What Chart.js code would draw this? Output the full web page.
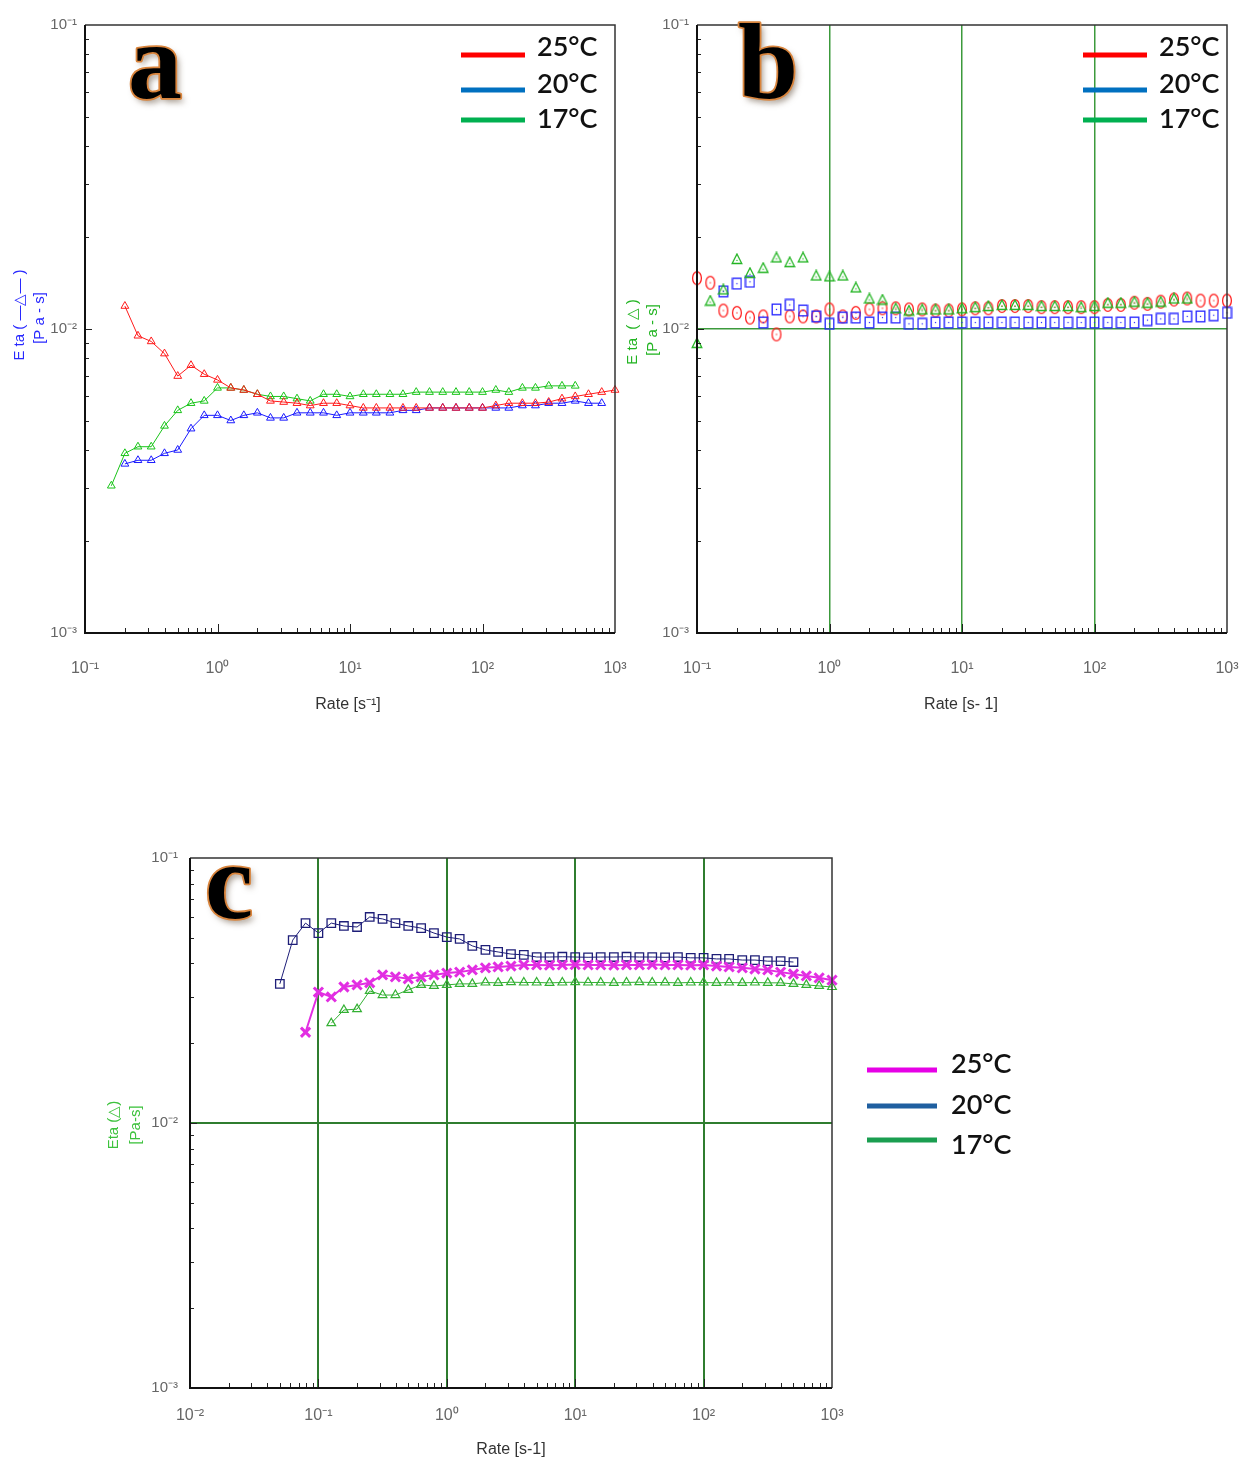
<!DOCTYPE html>
<html><head><meta charset="utf-8">
<script src="https://cdn.jsdelivr.net/npm/chart.js@4.4.0/dist/chart.umd.min.js"></script>
<style>
html,body{margin:0;padding:0;background:#fff;width:1251px;height:1463px;overflow:hidden}
canvas{position:absolute}
</style></head><body>
<canvas id="ca" width="645" height="730" style="left:0;top:0"></canvas>
<canvas id="cb" width="626" height="730" style="left:625px;top:0"></canvas>
<canvas id="cc" width="1251" height="663" style="left:0;top:800px"></canvas>
<script>
// ---------- DATA ----------
const legendLabels = ['25°C', '20°C', '17°C'];

// shear rates (s^-1), panels a & b
const ratesAB = [0.1,0.126,0.158,0.2,0.251,0.316,0.398,0.501,0.631,0.794,
  1,1.26,1.58,2,2.51,3.16,3.98,5.01,6.31,7.94,
  10,12.6,15.8,20,25.1,31.6,39.8,50.1,63.1,79.4,
  100,126,158,200,251,316,398,501,631,794,1000];

// panel a – viscosity (Pa·s)
const etaA25 = [null,null,null,0.0119,0.0095,0.0091,0.0083,0.0070,0.0076,0.0071,
  0.0068,0.0064,0.0063,0.0061,0.0058,0.00575,0.0057,0.0056,0.0057,0.0057,
  0.0056,0.0055,0.0055,0.0055,0.0055,0.0055,0.0055,0.0055,0.0055,0.0055,
  0.0055,0.0056,0.0057,0.0057,0.0057,0.00575,0.0059,0.0060,0.0061,0.0062,0.0063];
const etaA20 = [null,null,null,0.0036,0.0037,0.0037,0.0039,0.0040,0.0047,0.0052,
  0.0052,0.0050,0.0052,0.0053,0.0051,0.0051,0.0053,0.0053,0.0053,0.0052,
  0.0053,0.0053,0.0053,0.0053,0.0054,0.0054,0.0055,0.0055,0.0055,0.0055,
  0.0055,0.0055,0.0055,0.0056,0.0056,0.0057,0.0057,0.0058,0.0057,0.0057,null];
const etaA17 = [null,null,0.00305,0.0039,0.0041,0.0041,0.0048,0.0054,0.0057,0.0058,
  0.0064,0.0064,0.0063,0.0061,0.0060,0.0060,0.0059,0.0058,0.0061,0.0061,
  0.0060,0.0061,0.0061,0.0061,0.0061,0.0062,0.0062,0.0062,0.0062,0.0062,
  0.0062,0.0063,0.0062,0.0064,0.0064,0.0065,0.0065,0.0065,null,null,null];

// panel b – viscosity (Pa·s)
const etaB25 = [0.0147,0.0142,0.0115,0.0113,0.0109,0.0110,0.0096,0.0110,0.0110,0.0110,
  0.0116,0.0110,0.0113,0.0116,0.0117,0.0117,0.0116,0.0116,0.0115,0.0115,
  0.0116,0.0117,0.0117,0.0119,0.0119,0.0119,0.0118,0.0118,0.0118,0.0118,
  0.0118,0.0120,0.0120,0.0122,0.0121,0.0123,0.0125,0.0126,0.0124,0.0124,0.0124];
const etaB20 = [null,null,0.0133,0.0141,0.0143,0.0105,0.0116,0.0120,0.0115,0.0110,
  0.0104,0.0109,0.0109,0.0105,0.0109,0.0109,0.0104,0.0104,0.0105,0.0105,
  0.0105,0.0105,0.0105,0.0105,0.0105,0.0105,0.0105,0.0105,0.0105,0.0105,
  0.0105,0.0105,0.0105,0.0105,0.0107,0.0108,0.0108,0.0110,0.0110,0.0111,0.0113];
const etaB17 = [0.0090,0.0124,0.0135,0.0170,0.0153,0.0159,0.0172,0.0166,0.0172,0.0150,
  0.0149,0.0150,0.0137,0.0126,0.0125,0.0117,0.0115,0.0116,0.0116,0.0116,
  0.0117,0.0118,0.0119,0.0120,0.0120,0.0120,0.0119,0.0119,0.0119,0.0118,
  0.0119,0.0122,0.0122,0.0123,0.0122,0.0123,0.0126,0.0126,null,null,null];

// panel c
const ratesC = [0.01,0.0126,0.0158,0.02,0.0251,0.0316,0.0398,0.0501,0.0631,0.0794,
  0.1,0.126,0.158,0.2,0.251,0.316,0.398,0.501,0.631,0.794,
  1,1.26,1.58,2,2.51,3.16,3.98,5.01,6.31,7.94,
  10,12.6,15.8,20,25.1,31.6,39.8,50.1,63.1,79.4,
  100,126,158,200,251,316,398,501,631,794,1000];
const etaC25 = [null,null,null,null,null,null,null,null,null,0.0220,
  0.0312,0.0299,0.0326,0.0332,0.0338,0.0362,0.0356,0.0350,0.0356,0.0362,
  0.0368,0.0371,0.0378,0.0385,0.0388,0.0391,0.0395,0.0395,0.0394,0.0395,
  0.0396,0.0395,0.0395,0.0394,0.0395,0.0395,0.0396,0.0395,0.0395,0.0394,
  0.0395,0.0391,0.0388,0.0385,0.0381,0.0378,0.0371,0.0365,0.0359,0.0353,0.0346];
const etaC20 = [null,null,null,null,null,null,null,0.0335,0.0490,0.0568,
  0.0521,0.0568,0.0554,0.0549,0.0599,0.0589,0.0568,0.0554,0.0544,0.0521,
  0.0503,0.0495,0.0466,0.0450,0.0442,0.0434,0.0431,0.0423,0.0423,0.0424,
  0.0423,0.0422,0.0423,0.0423,0.0424,0.0423,0.0423,0.0422,0.0423,0.0420,
  0.0420,0.0416,0.0416,0.0412,0.0412,0.0408,0.0408,0.0405,null,null,null];
const etaC17 = [null,null,null,null,null,null,null,null,null,null,
  null,0.0238,0.0267,0.0269,0.0315,0.0304,0.0304,0.0318,0.0332,0.0329,
  0.0332,0.0335,0.0335,0.0339,0.0338,0.0340,0.0339,0.0339,0.0338,0.0339,
  0.0340,0.0339,0.0339,0.0338,0.0339,0.0340,0.0339,0.0339,0.0338,0.0339,
  0.0339,0.0338,0.0339,0.0338,0.0339,0.0338,0.0338,0.0335,0.0332,0.0329,0.0326];

// tick labels (exponent -> text)
const tickExps = [-3,-2,-1,0,1,2,3];
const tickTexts = ['10⁻³','10⁻²','10⁻¹','10⁰','10¹','10²','10³'];

// ---------- HELPERS ----------
const FONT = '"Liberation Sans Narrow","Liberation Sans",Arial,sans-serif';
function pts(rates, vals){ const o=[]; rates.forEach((r,i)=>{ if(vals[i]!=null) o.push({x:r,y:vals[i]}); }); return o; }
function isDecade(v){ const l=Math.log10(v); return Math.abs(l-Math.round(l))<1e-6; }
function tickLabel(v){ if(!isDecade(v)) return ''; const e=Math.round(Math.log10(v)); const k=tickExps.indexOf(e); return k<0?'':tickTexts[k]; }
function mkMarker(w,h,draw){ const c=document.createElement('canvas'); c.width=w; c.height=h; draw(c.getContext('2d'),w,h); return c; }

const bRed='#ff2020', bBlue='#2424ff', bGreen='#22b422';
const ellipseRed = mkMarker(12,16,(g,w,h)=>{g.strokeStyle=bRed;g.lineWidth=1.3;g.beginPath();g.ellipse(w/2,h/2,4.4,6.4,0,0,Math.PI*2);g.stroke();g.fillStyle=bRed;g.fillRect(w/2-0.6,h/2-0.6,1.2,1.2);});
const squareBlue = mkMarker(11,13,(g,w,h)=>{g.strokeStyle=bBlue;g.lineWidth=1.3;g.strokeRect(1.2,1.2,w-2.4,h-2.4);g.fillStyle=bBlue;g.fillRect(w/2-0.6,h/2-0.6,1.2,1.2);});
const triGreen = mkMarker(12,12,(g,w,h)=>{g.strokeStyle=bGreen;g.lineWidth=1.3;g.beginPath();g.moveTo(w/2,1);g.lineTo(w-1.2,h-1.5);g.lineTo(1.2,h-1.5);g.closePath();g.stroke();g.fillStyle=bGreen;g.fillRect(w/2-0.6,h*0.62-0.6,1.2,1.2);});

const decor = {
  id:'decor',
  afterDraw(chart, args, o){
    const ctx=chart.ctx, a=chart.chartArea, x=chart.scales.x, y=chart.scales.y;
    ctx.save();
    // inner ticks
    ctx.strokeStyle='#222'; ctx.lineWidth=1;
    const ex0=Math.round(Math.log10(x.min)), ex1=Math.round(Math.log10(x.max));
    for(let e=ex0;e<ex1;e++) for(let k=1;k<=9;k++){
      const v=k*Math.pow(10,e); const px=Math.round(x.getPixelForValue(v))+0.5;
      ctx.beginPath(); ctx.moveTo(px,a.bottom); ctx.lineTo(px,a.bottom-(k===1?9:5)); ctx.stroke();
    }
    const ey0=Math.round(Math.log10(y.min)), ey1=Math.round(Math.log10(y.max));
    for(let e=ey0;e<ey1;e++) for(let k=1;k<=9;k++){
      const v=k*Math.pow(10,e); const py=Math.round(y.getPixelForValue(v))+0.5;
      ctx.beginPath(); ctx.moveTo(a.left,py); ctx.lineTo(a.left+(k===1?7:4),py); ctx.stroke();
    }
    // frame
    ctx.strokeStyle='#333'; ctx.lineWidth=1.5;
    ctx.beginPath(); ctx.moveTo(a.left,a.top); ctx.lineTo(a.right,a.top); ctx.lineTo(a.right,a.bottom); ctx.stroke();
    ctx.strokeStyle='#111'; ctx.lineWidth=2;
    ctx.beginPath(); ctx.moveTo(a.left,a.top); ctx.lineTo(a.left,a.bottom); ctx.lineTo(a.right,a.bottom); ctx.stroke();
    // x title
    ctx.fillStyle='#333'; ctx.font='16px '+FONT; ctx.textAlign='center'; ctx.textBaseline='middle';
    ctx.fillText(o.xTitle.text, o.xTitle.x, o.xTitle.y);
    // y title (rotated, two lines)
    ctx.fillStyle=o.yTitle.color; ctx.font='15px '+FONT;
    o.yTitle.lines.forEach(l=>{ ctx.save(); ctx.translate(l.x,l.y); ctx.rotate(-Math.PI/2); ctx.fillText(l.text,0,0); ctx.restore(); });
    // panel letter
    const L=o.letter;
    ctx.font='bold 108px "Liberation Serif","DejaVu Serif",serif'; ctx.textAlign='left'; ctx.textBaseline='alphabetic';
    ctx.save(); ctx.shadowColor='rgba(90,70,50,0.55)'; ctx.shadowBlur=6; ctx.shadowOffsetX=3; ctx.shadowOffsetY=4;
    ctx.fillStyle='#000'; ctx.fillText(L.text,L.x,L.y); ctx.restore();
    ctx.strokeStyle='#d9843c'; ctx.lineWidth=3.5; ctx.lineJoin='round'; ctx.strokeText(L.text,L.x,L.y);
    ctx.fillStyle='#000'; ctx.fillText(L.text,L.x,L.y);
    // legend
    const G=o.legend;
    ctx.font='600 27px Lato,"Open Sans",sans-serif'; ctx.textBaseline='middle'; ctx.textAlign='left';
    G.items.forEach((it,i)=>{
      ctx.fillStyle=it.color; ctx.fillRect(G.x1,it.y-2.5,G.x2-G.x1,5);
      ctx.fillStyle='#111'; ctx.fillText(legendLabels[i],G.tx,it.ty);
    });
    ctx.restore();
  }
};

function scales(xmin,xmax,ymin,ymax,leftW,bottomH,xPad,yPad,gridColor,gridW){
  const gc = c => (gridColor && isDecade(c.tick.value) && c.tick.value>xmin && c.tick.value<xmax) ? gridColor : 'rgba(0,0,0,0)';
  const gcy = c => (gridColor && isDecade(c.tick.value) && c.tick.value>ymin && c.tick.value<ymax) ? gridColor : 'rgba(0,0,0,0)';
  return {
    x:{type:'logarithmic',position:'bottom',min:xmin,max:xmax,
      afterFit:s=>{s.height=bottomH; s.paddingLeft=0; s.paddingRight=0;},
      border:{display:false},
      grid:{drawTicks:false,color:gc,lineWidth:gridW},
      ticks:{autoSkip:false,maxRotation:0,minRotation:0,padding:xPad,color:'#666',font:{family:FONT,size:16},callback:v=>tickLabel(v)}},
    y:{type:'logarithmic',position:'left',min:ymin,max:ymax,
      afterFit:s=>{s.width=leftW; s.paddingTop=0; s.paddingBottom=0;},
      border:{display:false},
      grid:{drawTicks:false,color:gcy,lineWidth:gridW},
      ticks:{autoSkip:false,padding:yPad,color:'#666',font:{family:FONT,size:15},callback:v=>tickLabel(v)}}
  };
}
const common = {responsive:false,animation:false,events:[],
  plugins:{legend:{display:false},tooltip:{enabled:false}}};

// ---------- PANEL A ----------
const aRed='#ff1a1a', aBlue='#1a1aff', aGreen='#19c419';
function lineDs(data,color,style,r,bw,lw){ return {data,showLine:true,borderColor:color,borderWidth:lw,pointStyle:style,pointRadius:r,pointBorderColor:color,pointBorderWidth:bw,pointBackgroundColor:'rgba(0,0,0,0)',clip:10}; }
new Chart(document.getElementById('ca'),{type:'scatter',
  data:{datasets:[
    lineDs(pts(ratesAB,etaA25),aRed,'triangle',4.5,1,1),
    lineDs(pts(ratesAB,etaA20),aBlue,'triangle',4.5,1,1),
    lineDs(pts(ratesAB,etaA17),aGreen,'triangle',4.5,1,1)]},
  options:Object.assign({},common,{
    layout:{padding:{left:0,top:25,right:30,bottom:0}},
    scales:scales(0.1,1000,0.001,0.1,85,97,26,8,null,1),
    plugins:Object.assign({},common.plugins,{decor:{
      xTitle:{text:'Rate [s⁻¹]',x:348,y:705},
      yTitle:{color:'#2828ff',lines:[{text:'E ta ( —△— )',x:20,y:315},{text:'[P a - s]',x:40,y:318}]},
      letter:{text:'a',x:128,y:98},
      legend:{x1:461,x2:525,tx:537,items:[{color:'#ff0000',y:55,ty:47},{color:'#0070c0',y:90,ty:84},{color:'#00b050',y:120,ty:119}]}
    }})
  }),
  plugins:[decor]});

// ---------- PANEL B ----------
function ptDs(data,img){ return {data,showLine:false,pointStyle:img,pointRadius:6,clip:10}; }
new Chart(document.getElementById('cb'),{type:'scatter',
  data:{datasets:[ptDs(pts(ratesAB,etaB17),triGreen),ptDs(pts(ratesAB,etaB20),squareBlue),ptDs(pts(ratesAB,etaB25),ellipseRed)]},
  options:Object.assign({},common,{
    layout:{padding:{left:0,top:25,right:24,bottom:0}},
    scales:scales(0.1,1000,0.001,0.1,72,97,26,8,'#3c9a3c',1.5),
    plugins:Object.assign({},common.plugins,{decor:{
      xTitle:{text:'Rate [s- 1]',x:336,y:705},
      yTitle:{color:'#22b422',lines:[{text:'E ta  ( △ )',x:8,y:332},{text:'[P a - s]',x:28,y:330}]},
      letter:{text:'b',x:113,y:98},
      legend:{x1:458,x2:522,tx:534,items:[{color:'#ff0000',y:55,ty:47},{color:'#0070c0',y:90,ty:84},{color:'#00b050',y:120,ty:119}]}
    }})
  }),
  plugins:[decor]});

// ---------- PANEL C ----------
const cNavy='#1e1e78', cMag='#e22ee2', cGreen='#33b033';
new Chart(document.getElementById('cc'),{type:'scatter',
  data:{datasets:[
    lineDs(pts(ratesC,etaC25),cMag,'crossRot',6.5,3,2),
    lineDs(pts(ratesC,etaC20),cNavy,'rect',6,1.3,1),
    lineDs(pts(ratesC,etaC17),cGreen,'triangle',5,1.2,1)]},
  options:Object.assign({},common,{
    layout:{padding:{left:0,top:58,right:419,bottom:0}},
    scales:scales(0.01,1000,0.001,0.1,190,75,18,12,'#2f7d2f',2),
    plugins:Object.assign({},common.plugins,{decor:{
      xTitle:{text:'Rate [s-1]',x:511,y:650},
      yTitle:{color:'#3cc23c',lines:[{text:'Eta (△)',x:114,y:325},{text:'[Pa-s]',x:136,y:325}]},
      letter:{text:'c',x:205,y:118},
      legend:{x1:867,x2:937,tx:951,items:[{color:'#e600e6',y:270,ty:264},{color:'#1f5fa0',y:306,ty:305},{color:'#1a9e50',y:340,ty:345}]}
    }})
  }),
  plugins:[decor]});
</script>
</body></html>
